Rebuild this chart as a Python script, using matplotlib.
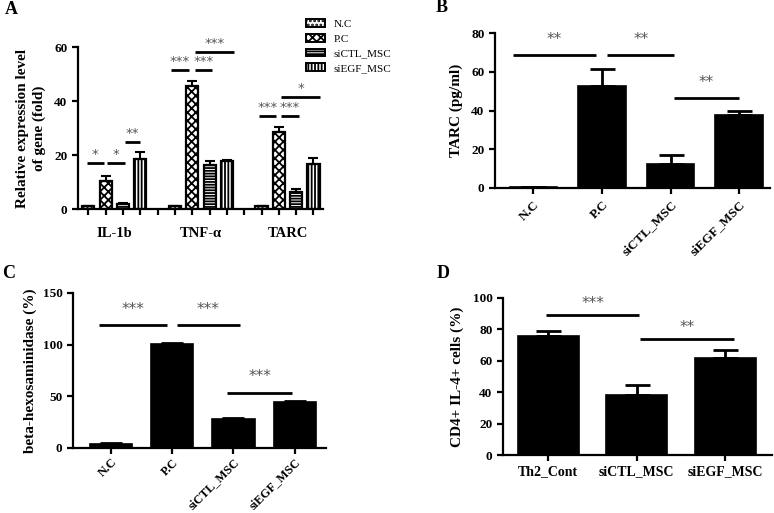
import matplotlib
matplotlib.use("Agg")
import matplotlib.pyplot as plt
from matplotlib.patches import Patch
import numpy as np

plt.rcParams['font.family'] = ['Liberation Serif', 'DejaVu Serif']
plt.rcParams['hatch.linewidth'] = 1.3
plt.rcParams['mathtext.default'] = 'regular'

# ---------------- data ----------------
A_groups = ["IL-1b", "TNF-α", "TARC"]
A_series = ["N.C", "P.C", "siCTL_MSC", "siEGF_MSC"]
A_nc = [1.0, 1.0, 1.0]
A_pc = [10.3, 45.6, 28.4]
A_sictl = [1.9, 16.2, 6.4]
A_siegf = [18.6, 17.6, 16.8]
A_nc_err = [0.2, 0.2, 0.2]
A_pc_err = [1.9, 1.7, 2.1]
A_sictl_err = [0.3, 1.6, 1.1]
A_siegf_err = [2.6, 0.7, 2.2]

B_cats = ["N.C", "P.C", "siCTL_MSC", "siEGF_MSC"]
B_vals = [0.4, 52.8, 12.6, 37.9]
B_err = [0.0, 8.6, 4.4, 2.0]

C_cats = ["N.C", "P.C", "siCTL_MSC", "siEGF_MSC"]
C_vals = [4.2, 100.3, 28.0, 44.2]
C_err = [0.3, 1.3, 0.7, 1.0]

D_cats = ["Th2_Cont", "siCTL_MSC", "siEGF_MSC"]
D_vals = [75.8, 38.1, 61.7]
D_err = [3.0, 6.8, 5.2]

# ---------------- figure ----------------
W, H = 774, 513
fig = plt.figure(figsize=(W / 100, H / 100), dpi=100)


def px_axes(l, r, t, b):
    return fig.add_axes([l / W, 1 - b / H, (r - l) / W, (b - t) / H])


def style(ax):
    for s in ['top', 'right']:
        ax.spines[s].set_visible(False)
    for s in ['left', 'bottom']:
        ax.spines[s].set_linewidth(1.6)
    ax.tick_params(axis='both', direction='out', width=1.6, length=4, labelsize=9.5)
    for lab in ax.get_yticklabels():
        lab.set_fontweight('bold')


def sig(ax, x0, x1, y, txt, dy, fs=11):
    ax.plot([x0, x1], [y, y], color='black', lw=2, solid_capstyle='butt', clip_on=False)
    ax.text((x0 + x1) / 2, y + dy, txt, ha='center', va='bottom', color='#555555',
            fontsize=fs, family='DejaVu Sans')


def panel_label(x, y, s):
    fig.text(x / W, 1 - y / H, s, fontsize=13, fontweight='bold', ha='center', va='center')


# ---------------- Panel A ----------------
axA = px_axes(78, 323, 47, 209)
pitch = 0.2
bw = 0.14
gx = np.arange(len(A_groups))
A_vals = [A_nc, A_pc, A_sictl, A_siegf]
A_errs = [A_nc_err, A_pc_err, A_sictl_err, A_siegf_err]
hatches = ['....', 'xxxx', '------', '|||||']
for i, (v, e, h, name) in enumerate(zip(A_vals, A_errs, hatches, A_series)):
    xs = gx + (i - 1.5) * pitch
    axA.bar(xs, v, width=bw, color='white', edgecolor='black', linewidth=1.6, hatch=h, zorder=2)
    axA.errorbar(xs, v, yerr=[np.zeros(len(e)), e], fmt='none', ecolor='black',
                 elinewidth=1.5, capsize=3.5, capthick=1.5, zorder=3)
axA.set_xlim(-0.42, 2.41)
axA.set_ylim(0, 60)
axA.set_yticks([0, 20, 40, 60])
ticks = []
for g in gx:
    ticks += list(g + (np.arange(4) - 1.5) * pitch)
ticks += [0.5, 1.5]
axA.set_xticks(sorted(ticks))
axA.set_xticklabels([])
style(axA)
for g, name in zip(gx, A_groups):
    axA.text(g, -0.15, name, transform=axA.get_xaxis_transform(), ha='center', va='center',
             fontsize=10.5, fontweight='bold')
axA.set_ylabel("Relative expression level\nof gene (fold)", fontsize=11, fontweight='bold',
               labelpad=6, linespacing=1.3)
# significance A
c = lambda g, i: g + (i - 1.5) * pitch
fa = 9.5
sig(axA, c(0, 0) - 0.02, c(0, 1) - 0.02, 16.9, '*', 0.8, fa)
sig(axA, c(0, 1) + 0.02, c(0, 2) + 0.02, 16.9, '*', 0.8, fa)
sig(axA, c(0, 2) + 0.02, c(0, 3) + 0.0, 24.9, '**', 0.8, fa)
sig(axA, c(1, 0) - 0.04, c(1, 1) - 0.04, 51.6, '***', 0.8, fa)
sig(axA, c(1, 1) + 0.03, c(1, 2) + 0.03, 51.6, '***', 0.8, fa)
sig(axA, c(1, 1) + 0.03, c(1, 3) + 0.08, 58.1, '***', 0.8, fa)
sig(axA, c(2, 0) - 0.03, c(2, 1) - 0.03, 34.4, '***', 0.8, fa)
sig(axA, c(2, 1) + 0.03, c(2, 2) + 0.03, 34.4, '***', 0.8, fa)
sig(axA, c(2, 1) + 0.02, c(2, 3) + 0.08, 41.5, '*', 0.8, fa)

handles = [Patch(facecolor='white', edgecolor='black', hatch=h, linewidth=1.4, label=n)
           for h, n in zip(hatches, A_series)]
fig.legend(handles=handles, loc='upper left', bbox_to_anchor=(306 / W, 1 - 19 / H),
           frameon=False, fontsize=8, handlelength=1.7, handleheight=0.7,
           labelspacing=0.45, handletextpad=0.8, borderpad=0, borderaxespad=0)


# ---------------- simple bar panels ----------------
def bar_panel(ax, cats, vals, errs, xlim, ylim, yticks, capsize, rot, fs):
    x = np.arange(len(cats))
    ax.bar(x, vals, width=0.69, color='black', edgecolor='black', linewidth=1.2, zorder=2)
    ax.errorbar(x, vals, yerr=[np.zeros(len(errs)), errs], fmt='none', ecolor='black',
                elinewidth=2, capsize=capsize, capthick=2, zorder=3)
    ax.set_xlim(*xlim)
    ax.set_ylim(*ylim)
    ax.set_yticks(yticks)
    ax.set_xticks(x)
    style(ax)
    if rot:
        ax.set_xticklabels(cats, rotation=45, ha='right', rotation_mode='anchor',
                           fontsize=fs, fontweight='bold')
    else:
        ax.set_xticklabels(cats, fontsize=fs, fontweight='bold')
    return x


# Panel B
axB = px_axes(495, 770, 33, 188)
bar_panel(axB, B_cats, B_vals, B_err, (-0.56, 3.45), (0, 80), [0, 20, 40, 60, 80], 9, True, 9.5)
axB.set_ylabel("TARC (pg/ml)", fontsize=11, fontweight='bold', labelpad=6)
sig(axB, -0.3, 0.92, 68.5, '**', 4.5)
sig(axB, 1.08, 2.05, 68.5, '**', 4.5)
sig(axB, 2.05, 3.0, 46.3, '**', 4.5)

# Panel C
axC = px_axes(73, 326, 293, 448)
bar_panel(axC, C_cats, C_vals, C_err, (-0.62, 3.51), (0, 150), [0, 50, 100, 150], 8, True, 8.8)
axC.tick_params(axis='x', pad=2)
axC.set_ylabel("beta-hexosaminidase (%)", fontsize=11, fontweight='bold', labelpad=4)
sig(axC, -0.2, 0.92, 118.7, '***', 8)
sig(axC, 1.08, 2.1, 118.7, '***', 8)
sig(axC, 1.9, 2.95, 53.5, '***', 8)

# Panel D
axD = px_axes(503, 772, 298, 455)
bar_panel(axD, D_cats, D_vals, D_err, (-0.51, 2.525), (0, 100), [0, 20, 40, 60, 80, 100], 9, False, 10)
axD.set_ylabel("CD4+ IL-4+ cells (%)", fontsize=11, fontweight='bold', labelpad=6)
sig(axD, -0.03, 1.03, 89.4, '***', 2.5)
sig(axD, 1.04, 2.1, 73.7, '**', 2.5)

panel_label(11, 9, 'A')
panel_label(442, 8, 'B')
panel_label(9, 274, 'C')
panel_label(443, 274, 'D')

fig.savefig('out.png', dpi=100)
